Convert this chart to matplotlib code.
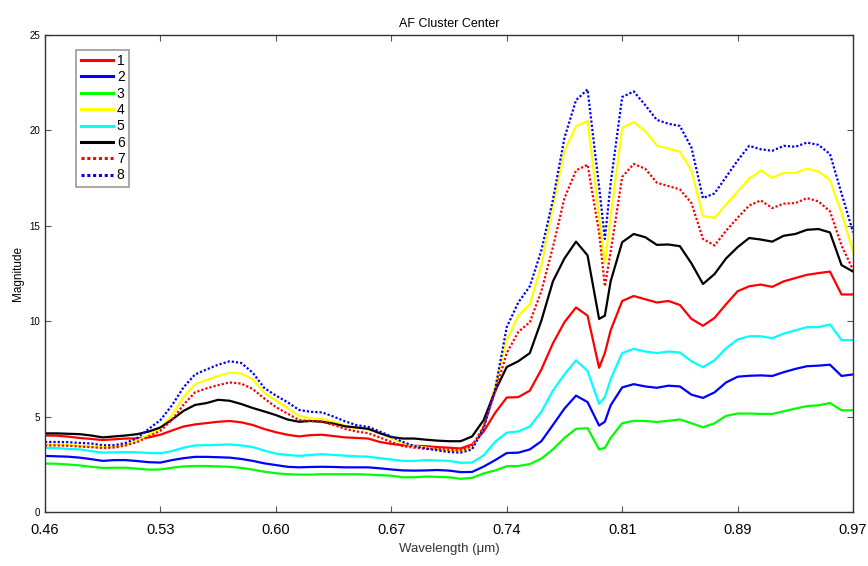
import matplotlib
matplotlib.use("Agg")
import matplotlib.pyplot as plt

plt.rcParams['font.family'] = ['Liberation Sans', 'DejaVu Sans']

# band positions (evenly spaced bands, extra sample in the 0.80 um dip)
band = list(range(49)) + [48.5] + list(range(49, 71))
tick_pos = [0, 10, 20, 30, 40, 50, 60, 70]
tick_labels = ["0.46", "0.53", "0.60", "0.67", "0.74", "0.81", "0.89", "0.97"]

c1 = [4.01, 4.00, 3.95, 3.88, 3.83, 3.77, 3.81, 3.85, 3.86, 3.91,
      4.05, 4.27, 4.48, 4.59, 4.66, 4.73, 4.77, 4.70, 4.56, 4.35,
      4.18, 4.05, 3.96, 4.03, 4.05, 3.98, 3.91, 3.88, 3.85, 3.67,
      3.57, 3.50, 3.47, 3.45, 3.40, 3.37, 3.33, 3.54, 4.22, 5.20,
      6.00, 6.02, 6.36, 7.47, 8.84, 9.95, 10.72, 10.29, 7.56, 8.33,
      9.52, 11.06, 11.32, 11.15, 10.98, 11.06, 10.85, 10.12, 9.76, 10.17,
      10.89, 11.57, 11.83, 11.92, 11.80, 12.09, 12.26, 12.43, 12.52, 12.60,
      11.40, 11.40]
c2 = [2.94, 2.92, 2.90, 2.85, 2.77, 2.68, 2.72, 2.72, 2.67, 2.61,
      2.59, 2.72, 2.82, 2.89, 2.89, 2.87, 2.85, 2.78, 2.68, 2.55,
      2.46, 2.37, 2.34, 2.36, 2.37, 2.36, 2.34, 2.34, 2.34, 2.29,
      2.23, 2.18, 2.17, 2.18, 2.20, 2.17, 2.09, 2.10, 2.38, 2.72,
      3.09, 3.11, 3.28, 3.71, 4.56, 5.42, 6.10, 5.76, 4.53, 4.73,
      5.59, 6.53, 6.70, 6.58, 6.51, 6.62, 6.58, 6.15, 5.98, 6.27,
      6.79, 7.09, 7.14, 7.16, 7.13, 7.33, 7.50, 7.64, 7.67, 7.72,
      7.13, 7.21]
c3 = [2.54, 2.53, 2.49, 2.44, 2.37, 2.31, 2.32, 2.32, 2.27, 2.22,
      2.23, 2.32, 2.39, 2.41, 2.41, 2.39, 2.37, 2.31, 2.22, 2.11,
      2.03, 1.98, 1.96, 1.96, 1.98, 1.98, 1.98, 1.98, 1.96, 1.93,
      1.90, 1.82, 1.82, 1.86, 1.84, 1.82, 1.74, 1.79, 2.02, 2.18,
      2.40, 2.41, 2.51, 2.80, 3.28, 3.88, 4.36, 4.39, 3.28, 3.36,
      3.88, 4.65, 4.78, 4.77, 4.72, 4.78, 4.85, 4.65, 4.44, 4.65,
      5.04, 5.16, 5.16, 5.14, 5.14, 5.28, 5.42, 5.55, 5.59, 5.71,
      5.33, 5.33]
c4 = [3.54, 3.54, 3.52, 3.47, 3.43, 3.40, 3.41, 3.54, 3.74, 4.05,
      4.39, 5.08, 6.02, 6.70, 6.92, 7.13, 7.30, 7.26, 6.95, 6.25,
      5.85, 5.45, 5.04, 4.90, 4.87, 4.73, 4.53, 4.39, 4.32, 4.13,
      3.88, 3.62, 3.45, 3.37, 3.28, 3.19, 3.19, 3.37, 4.56, 6.58,
      9.01, 10.29, 10.89, 12.94, 16.02, 18.93, 20.21, 20.50, 15.51, 13.03,
      15.51, 20.13, 20.43, 19.96, 19.21, 19.05, 18.88, 17.90, 15.51, 15.42,
      16.11, 16.79, 17.47, 17.90, 17.51, 17.77, 17.77, 17.99, 17.85, 17.39,
      15.68, 13.63]
c5 = [3.37, 3.35, 3.31, 3.28, 3.19, 3.11, 3.13, 3.14, 3.13, 3.09,
      3.08, 3.19, 3.37, 3.49, 3.50, 3.52, 3.54, 3.49, 3.40, 3.22,
      3.06, 2.99, 2.94, 2.99, 3.03, 2.99, 2.95, 2.92, 2.90, 2.82,
      2.75, 2.68, 2.68, 2.72, 2.70, 2.68, 2.58, 2.59, 2.97, 3.68,
      4.16, 4.22, 4.48, 5.25, 6.36, 7.21, 7.95, 7.39, 5.67, 6.02,
      6.96, 8.33, 8.55, 8.41, 8.33, 8.41, 8.36, 7.90, 7.59, 7.95,
      8.58, 9.04, 9.21, 9.21, 9.11, 9.35, 9.52, 9.69, 9.69, 9.83,
      9.01, 9.01]
c6 = [4.12, 4.12, 4.10, 4.08, 4.01, 3.91, 3.96, 4.01, 4.08, 4.22,
      4.43, 4.84, 5.30, 5.61, 5.71, 5.88, 5.83, 5.66, 5.45, 5.27,
      5.08, 4.85, 4.73, 4.77, 4.73, 4.63, 4.49, 4.43, 4.36, 4.13,
      3.93, 3.85, 3.85, 3.79, 3.74, 3.71, 3.71, 3.96, 4.82, 6.35,
      7.60, 7.90, 8.33, 10.03, 12.09, 13.29, 14.17, 13.45, 10.12, 10.29,
      12.09, 14.14, 14.57, 14.40, 14.00, 14.02, 13.93, 13.03, 11.95, 12.47,
      13.29, 13.88, 14.36, 14.28, 14.17, 14.48, 14.57, 14.79, 14.83, 14.65,
      12.94, 12.60]
c7 = [3.49, 3.49, 3.47, 3.43, 3.40, 3.35, 3.38, 3.49, 3.67, 3.96,
      4.26, 4.82, 5.62, 6.27, 6.48, 6.65, 6.79, 6.73, 6.44, 5.95,
      5.50, 5.16, 4.82, 4.77, 4.73, 4.56, 4.36, 4.22, 4.13, 3.91,
      3.67, 3.45, 3.37, 3.31, 3.30, 3.26, 3.23, 3.45, 4.48, 6.30,
      8.33, 9.44, 9.95, 11.57, 13.88, 16.45, 17.90, 18.20, 14.65, 11.83,
      13.63, 17.56, 18.24, 17.99, 17.26, 17.08, 16.91, 16.19, 14.31, 13.97,
      14.74, 15.42, 16.06, 16.33, 15.93, 16.16, 16.19, 16.45, 16.28, 15.76,
      13.97, 12.69]
c8 = [3.67, 3.67, 3.66, 3.62, 3.59, 3.50, 3.50, 3.62, 3.88, 4.36,
      4.82, 5.59, 6.53, 7.21, 7.47, 7.72, 7.90, 7.81, 7.30, 6.50,
      6.10, 5.76, 5.35, 5.25, 5.22, 5.00, 4.75, 4.55, 4.46, 4.22,
      3.96, 3.67, 3.45, 3.33, 3.23, 3.14, 3.11, 3.28, 4.39, 6.44,
      9.69, 10.98, 11.83, 13.71, 16.36, 19.61, 21.58, 22.15, 17.05, 14.31,
      17.22, 21.75, 22.04, 21.32, 20.55, 20.35, 20.23, 19.10, 16.45, 16.70,
      17.56, 18.42, 19.19, 19.01, 18.93, 19.19, 19.14, 19.36, 19.24, 18.76,
      16.70, 14.65]

series = [c1, c2, c3, c4, c5, c6, c7, c8]
names = ["1", "2", "3", "4", "5", "6", "7", "8"]
colors = ["#ff0000", "#0000ff", "#00ff00", "#ffff00", "#00ffff", "#000000", "#ff0000", "#0000ff"]
dotted = (0, (1, 0.9))
styles = ["-", "-", "-", "-", "-", "-", dotted, dotted]

fig = plt.figure(figsize=(8.68, 5.66), dpi=100)
ax = fig.add_axes([0.0518, 0.0954, 0.9310, 0.8428])

for vals, name, col, ls in zip(series, names, colors, styles):
    ax.plot(band, vals, color=col, linestyle=ls, linewidth=1.6, label=name)

ax.set_xlim(0, 70)
ax.set_ylim(0, 25)
ax.set_xticks(tick_pos)
ax.set_xticklabels(tick_labels, fontsize=10.5)
ax.set_yticks([0, 5, 10, 15, 20, 25])
ax.tick_params(axis='y', labelsize=7)
ax.tick_params(direction='in', top=True, right=True, length=4, width=0.8, color='#555555')
ax.tick_params(axis='x', pad=8)
for sp in ax.spines.values():
    sp.set_color('#333333')
    sp.set_linewidth(1.0)

ax.set_title("AF Cluster Center", fontsize=9, pad=6)
ax.set_xlabel("Wavelength (\u03bcm)", fontsize=9.5, color='#333333', labelpad=4)
ax.set_ylabel("Magnitude", fontsize=8.5, labelpad=4)

leg = ax.legend(loc='upper left', bbox_to_anchor=(0.039, 0.969), borderaxespad=0,
                fontsize=10, handlelength=2.3, handletextpad=0.3, labelspacing=0.17,
                borderpad=0.3, fancybox=False, framealpha=1)
leg.get_frame().set_edgecolor('#999999')
leg.get_frame().set_linewidth(1.2)
for line in leg.get_lines():
    line.set_linewidth(2.2)

fig.savefig("out.png", dpi=100)
